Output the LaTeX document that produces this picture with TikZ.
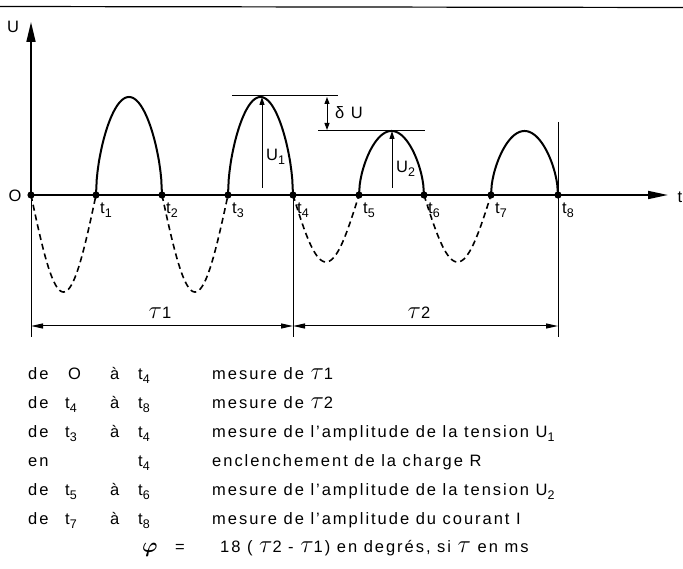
\documentclass[tikz,border=0pt]{standalone}
\usepackage{amsmath}
\usepackage{fontspec}
\setmainfont{Liberation Sans}[LetterSpace=12]
\usetikzlibrary{arrows.meta}
\newcommand\tsb[1]{t\raisebox{-4pt}{\fontsize{12.5}{12.5}\selectfont #1}}
\newcommand\usb[1]{U\raisebox{-4pt}{\fontsize{12.5}{12.5}\selectfont #1}}
\newcommand\taus{{\fontsize{23}{23}\selectfont$\tau$}}
\begin{document}
\begin{tikzpicture}[x=1pt,y=-1pt,
  axis/.style={line width=1.7pt},
  curve/.style={line width=2pt},
  dcurve/.style={line width=1.6pt,dash pattern=on 6pt off 4pt},
  thinl/.style={line width=1pt},
  lab/.style={inner sep=0pt,font=\fontsize{16.5}{16.5}\selectfont},
  txt/.style={inner sep=0pt,anchor=base west,font=\fontsize{16.5}{16.5}\selectfont},
]
\useasboundingbox (0,0) rectangle (683,569);
% top rule
\coordinate (topL) at (0,6.5);
\coordinate (topR) at (683,7.5);
\draw[line width=1.2pt] (topL) -- (topR);
% zero points
\foreach \n/\x in {0/31,1/96,2/162,3/228,4/293,5/359,6/424,7/491,8/558}
  \coordinate (t\n) at (\x,195);
\coordinate (ytip) at (31,22);
\coordinate (xtip) at (668,195);
\draw[axis,-{Triangle[length=20pt,width=9pt]}] (t0) -- (ytip);
\draw[axis,-{Triangle[length=20pt,width=8pt]}] (t0) -- (xtip);
\node[lab] (Ulab) at (13,27) {U};
\node[lab] (Olab) at (15,196) {O};
\node[lab] (tlab) at (680,197) {t};
% humps
\foreach \a/\b/\h in {96/162/98,228/293/98,359/424/64,491/558/64}
  \draw[curve] plot[domain=0:180,samples=90,variable=\u] ({\a+(\b-\a)*\u/180},{195-\h*pow(max(sin(\u),0.00001),0.55)});
\foreach \a/\b/\h in {31/96/97,162/228/97,293/359/67,424/491/67}
  \draw[dcurve] plot[domain=0:180,samples=60,variable=\u] ({\a+(\b-\a)*\u/180},{195+\h*sin(\u)});
\foreach \n in {0,...,8} \fill (t\n) circle (3.6pt);
% t labels
\foreach \n/\x in {1/96,2/162,3/228,4/293,5/359,6/424,7/491,8/558}
  \node[txt] (lt\n) at (\x+4,214) {\tsb{\n}};
% vertical lines
\coordinate (bL) at (31,337);
\coordinate (b4) at (293,337);
\coordinate (t8top) at (558,122);
\coordinate (b8) at (558,337);
\draw[thinl] (t0) -- (bL);
\draw[thinl] (t4) -- (b4);
\draw[thinl] (t8top) -- (b8);
% tau dimensions
\coordinate (d0) at (31,326);
\coordinate (d4) at (293,326);
\coordinate (d8) at (558,326);
\draw[thinl,{Triangle[length=12pt,width=5pt]}-{Triangle[length=12pt,width=5pt]}] (d0) -- (d4);
\draw[thinl,{Triangle[length=12pt,width=5pt]}-{Triangle[length=12pt,width=5pt]}] (d4) -- (d8);
\node[lab] (tau1) at (160,313) {\taus 1};
\node[lab] (tau2) at (419,313) {\taus 2};
% U1, U2, delta U
\coordinate (u1b) at (262,188);
\coordinate (u1t) at (262,97);
\coordinate (u2b) at (392,188);
\coordinate (u2t) at (392,131);
\draw[thinl,-{Triangle[length=8pt,width=5pt]}] (u1b) -- (u1t);
\draw[thinl,-{Triangle[length=8pt,width=5pt]}] (u2b) -- (u2t);
\node[txt] (U1) at (266,161) {\usb{1}};
\node[txt] (U2) at (396,173) {\usb{2}};
\coordinate (l1a) at (232,96);
\coordinate (l1b) at (338,96);
\coordinate (l2a) at (318,131);
\coordinate (l2b) at (425,131);
\draw[thinl] (l1a) -- (l1b);
\draw[thinl] (l2a) -- (l2b);
\coordinate (dua) at (327,97);
\coordinate (dub) at (327,130);
\draw[thinl,{Triangle[length=7pt,width=5pt]}-{Triangle[length=7pt,width=5pt]}] (dua) -- (dub);
\node[txt] (dU) at (335,119) {δ U};
% table
\node[txt] (r1a) at (28,380) {de};
\node[txt] (r1b) at (68,380) {O};
\node[txt] (r1c) at (110,380) {à};
\node[txt] (r1d) at (138,380) {\tsb{4}};
\node[txt] (r1e) at (212,380) {mesure de \taus 1};
\node[txt] (r2a) at (28,408.8) {de};
\node[txt] (r2b) at (65,408.8) {\tsb{4}};
\node[txt] (r2c) at (110,408.8) {à};
\node[txt] (r2d) at (138,408.8) {\tsb{8}};
\node[txt] (r2e) at (212,408.8) {mesure de \taus 2};
\node[txt] (r3a) at (28,437.6) {de};
\node[txt] (r3b) at (65,437.6) {\tsb{3}};
\node[txt] (r3c) at (110,437.6) {à};
\node[txt] (r3d) at (138,437.6) {\tsb{4}};
\node[txt] (r3e) at (212,437.6) {mesure de l’amplitude de la tension \usb{1}};
\node[txt] (r4a) at (28,466.4) {en};
\node[txt] (r4d) at (138,466.4) {\tsb{4}};
\node[txt] (r4e) at (212,466.4) {enclenchement de la charge R};
\node[txt] (r5a) at (28,495.2) {de};
\node[txt] (r5b) at (65,495.2) {\tsb{5}};
\node[txt] (r5c) at (110,495.2) {à};
\node[txt] (r5d) at (138,495.2) {\tsb{6}};
\node[txt] (r5e) at (212,495.2) {mesure de l’amplitude de la tension \usb{2}};
\node[txt] (r6a) at (28,524) {de};
\node[txt] (r6b) at (65,524) {\tsb{7}};
\node[txt] (r6c) at (110,524) {à};
\node[txt] (r6d) at (138,524) {\tsb{8}};
\node[txt] (r6e) at (212,524) {mesure de l’amplitude du courant I};
\node[txt] (r7a) at (142,552.8) {\fontsize{22}{22}\selectfont$\boldsymbol{\varphi}$};
\node[txt] (r7b) at (175,552.8) {=};
\node[txt] (r7c) at (220,552.8) {18 ( \taus 2 - \taus 1) en degrés, si \taus\ en ms};
\end{tikzpicture}
\end{document}
